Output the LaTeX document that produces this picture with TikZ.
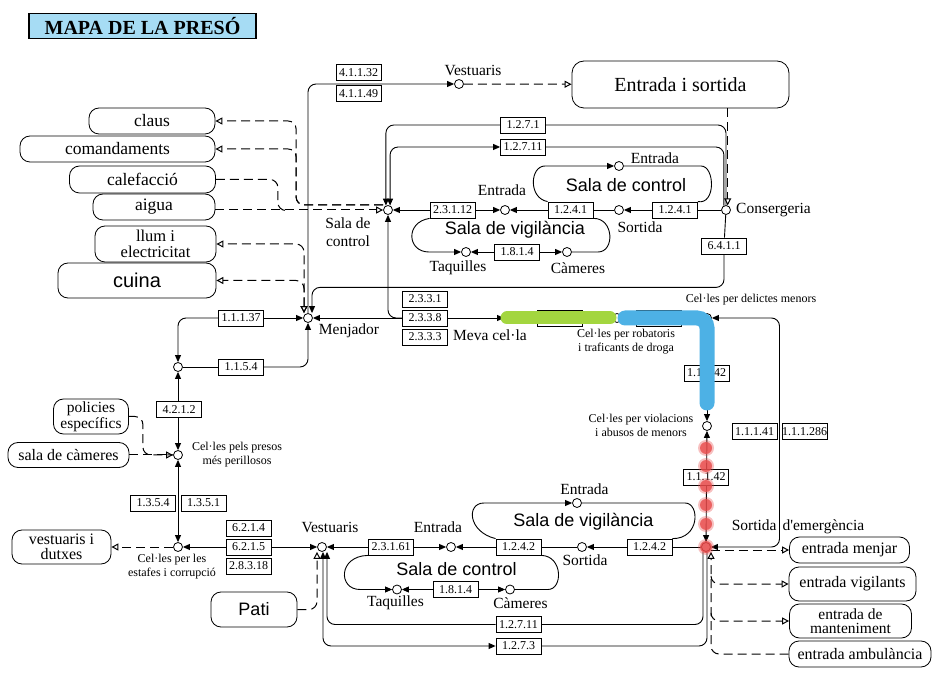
\documentclass[tikz,border=0pt]{standalone}
\usepackage{fontspec}
\setmainfont{Liberation Serif}
\newfontfamily\roomfont{Liberation Sans}
\usetikzlibrary{arrows.meta,backgrounds}
\definecolor{TitleBlue}{HTML}{A6DCF4}
\definecolor{RouteGreen}{HTML}{A3D63F}
\definecolor{RouteBlue}{HTML}{4DB1E5}
\definecolor{RouteRed}{HTML}{E84B4B}
\tikzset{fwd/.tip={Triangle[length=7pt,width=6pt]},
         opn/.tip={Triangle[open,length=7pt,width=7pt]}}

\begin{document}
\begin{tikzpicture}[x=1pt,y=-1pt,
  banner/.style={draw,line width=1.6pt,fill=TitleBlue,inner sep=0pt,
                 minimum width=227pt,minimum height=25pt,font=\bfseries\fontsize{20}{20}\selectfont},
  thing/.style={draw,rounded corners=10pt,align=center,inner sep=0pt,line width=0.8pt,
                font=\fontsize{17.5}{14}\selectfont},
  code/.style={draw,fill=white,inner sep=0pt,line width=0.8pt,minimum width=45pt,
               minimum height=16pt,font=\fontsize{12}{12}\selectfont},
  state/.style={circle,draw,fill=white,inner sep=0pt,line width=0.8pt,minimum size=9pt},
  lbl/.style={inner sep=0pt,font=\fontsize{15.5}{16}\selectfont},
  note/.style={inner sep=0pt,align=center,font=\fontsize{12}{14}\selectfont},
  room/.style={inner sep=0pt,font=\roomfont\fontsize{18}{18}\selectfont},
  link/.style={draw,line width=0.9pt,rounded corners=8pt},
  dlink/.style={link,line width=1pt,dash pattern=on 9pt off 5pt}
]
\useasboundingbox (0,0) rectangle (946,676);

\node[banner] (title) at (142.5,26) {MAPA DE LA PRESÓ};

% top row
\node[state] (vest1) at (459,84) {};
\node[lbl] (vest1lbl) at (473,70) {Vestuaris};
\node[thing,minimum width=217pt,minimum height=47pt,rounded corners=12pt,
      font=\fontsize{20}{20}\selectfont] (entsort) at (680.5,84.5) {Entrada i sortida};
\node[code] (c4132) at (358.5,72.5) {4.1.1.32};
\node[code] (c4149) at (358.5,93.5) {4.1.1.49};
\node[code] (c1271) at (523,125) {1.2.7.1};
\node[code] (c12711) at (523,147) {1.2.7.11};

% supplies on the left
\node[thing,minimum width=126pt,minimum height=26pt] (claus) at (152,121) {claus};
\node[thing,minimum width=195pt,minimum height=26pt] (comand) at (117.5,149) {comandaments};
\node[thing,minimum width=146pt,minimum height=27pt] (calef) at (142.5,179.5) {calefacció};
\node[thing,minimum width=122pt,minimum height=26pt] (aigua) at (154,207) {aigua};
\node[thing,minimum width=121pt,minimum height=36pt,font=\fontsize{16.5}{16}\selectfont] (llum) at (155.5,244) {llum i\\electricitat};
\node[thing,minimum width=158pt,minimum height=35pt,
      font=\roomfont\fontsize{20}{20}\selectfont] (cuina) at (137,280.5) {cuina};

% control rooms, top
\node[state] (salac) at (388,210) {};
\node[lbl,align=center,font=\fontsize{15.5}{18}\selectfont] (salaclbl) at (348,232) {Sala de\\control};
\node[code] (c23112) at (452.5,210) {2.3.1.12};
\node[state] (ent1) at (505,210) {};
\node[lbl] (ent1lbl) at (502,190) {Entrada};
\node[code] (c1241a) at (570.5,210) {1.2.4.1};
\node[state] (sort1) at (619,210) {};
\node[lbl] (sort1lbl) at (640,227) {Sortida};
\node[code] (c1241b) at (675,210) {1.2.4.1};
\node[state] (conserg) at (726,210) {};
\node[lbl,anchor=west] (conslbl) at (736,210) {Consergeria};
\node[state] (entsc) at (619,166) {};
\node[lbl] (entsclbl) at (655,158) {Entrada};
\node[room] (sctop) at (626,185) {Sala de control};
\node[state] (taq1) at (466,252) {};
\node[lbl] (taq1lbl) at (458,268) {Taquilles};
\node[code] (c1814a) at (517,252) {1.8.1.4};
\node[state] (cam1) at (567,252) {};
\node[lbl] (cam1lbl) at (578,268) {Càmeres};
\node[room] (svtop) at (515,230) {Sala de vigilància};
\node[code] (c6411) at (724,246) {6.4.1.1};

% dining hall
\node[state] (menj) at (308,318) {};
\node[lbl] (menjlbl) at (349,331) {Menjador};
\node[code] (c11137) at (241,318) {1.1.1.37};
\node[state] (midc) at (178,367) {};
\node[code] (c1154) at (241,367) {1.1.5.4};
\node[code] (c4212) at (179,409.5) {4.2.1.2};
\node[code] (c2331) at (425,299) {2.3.3.1};
\node[code] (c2338) at (425,318) {2.3.3.8};
\node[code] (c2333) at (425,337) {2.3.3.3};

% cells on the route
\node[state] (meva) at (509,318) {};
\node[lbl] (mevalbl) at (490,335) {Meva cel·la};
\node[code] (hbox1) at (560,318) {};
\node[state] (robat) at (617,318) {};
\node[note] (robatlbl) at (626,342) {Cel·les per robatoris\\i traficants de droga};
\node[code] (hbox2) at (658.5,318) {};
\node[state] (delict) at (707,318) {};
\node[note] (delictlbl) at (751,300) {Cel·les per delictes menors};
\node[code] (c11142a) at (706.5,373) {1.1.1.42};
\node[state] (violac) at (707,426) {};
\node[note] (violaclbl) at (641,425) {Cel·les per violacions\\i abusos de menors};
\node[code] (c11142b) at (706,477) {1.1.1.42};
\node[code] (c11141) at (754.5,431.5) {1.1.1.41};
\node[code] (c111286) at (804.5,431.5) {1.1.1.286};
\coordinate (rturn) at (779.5,431.5);

% lower left cells
\node[state] (peril) at (178,455) {};
\node[note] (perillbl) at (237,455) {Cel·les pels presos\\més perillosos};
\node[thing,minimum width=75pt,minimum height=35pt,font=\fontsize{15.5}{16}\selectfont] (polic) at (91,416.5) {policies\\específics};
\node[thing,minimum width=121pt,minimum height=25pt,font=\fontsize{16}{16}\selectfont] (salcam) at (68.5,455) {sala de càmeres};
\node[code] (c1354) at (153,503) {1.3.5.4};
\node[code] (c1351) at (203.5,503) {1.3.5.1};
\node[state] (estaf) at (178,547) {};
\node[note] (estaflbl) at (172,567) {Cel·les per les\\estafes i corrupció};
\node[thing,minimum width=99pt,minimum height=34pt,font=\fontsize{16}{15}\selectfont] (vestdut) at (61.5,547) {vestuaris i\\dutxes};
\node[code] (c6214) at (248.5,528) {6.2.1.4};
\node[code] (c6215) at (248.5,547) {6.2.1.5};
\node[code] (c28318) at (248.5,566) {2.8.3.18};
\node[thing,minimum width=86pt,minimum height=35pt,font=\roomfont\fontsize{18}{18}\selectfont] (pati) at (254,609.5) {Pati};

% control rooms, bottom
\node[state] (vest2) at (322,547) {};
\node[lbl] (vest2lbl) at (330,527) {Vestuaris};
\node[code] (c23161) at (391,547) {2.3.1.61};
\node[state] (ent2) at (451,547) {};
\node[lbl] (ent2lbl) at (438,527) {Entrada};
\node[code] (c1242a) at (518.5,547) {1.2.4.2};
\node[state] (sort2) at (582,547) {};
\node[lbl] (sort2lbl) at (585,560) {Sortida};
\node[code] (c1242b) at (649.5,547) {1.2.4.2};
\node[state] (emerg) at (706,547) {};
\node[lbl] (emerglbl) at (798,527) {Sortida\hspace{6pt}d\textquotesingle emergència};
\node[state] (entv2) at (577,503) {};
\node[lbl] (entv2lbl) at (584.5,489) {Entrada};
\node[room] (svbot) at (583.5,522) {Sala de vigilància};
\node[state] (taq2) at (397,589.5) {};
\node[lbl] (taq2lbl) at (395.5,603) {Taquilles};
\node[code] (c1814b) at (455.5,589.5) {1.8.1.4};
\node[state] (cam2) at (510,589.5) {};
\node[lbl] (cam2lbl) at (520.5,603) {Càmeres};
\node[room] (scbot) at (456.5,569) {Sala de control};
\node[code] (c12711b) at (518.5,624.5) {1.2.7.11};
\node[code] (c1273) at (518.5,646) {1.2.7.3};

% entrances
\node[thing,minimum width=120pt,minimum height=26pt,font=\fontsize{16}{13}\selectfont] (entmenj) at (849.5,550) {entrada menjar};
\node[thing,minimum width=127pt,minimum height=34pt,font=\fontsize{16}{13}\selectfont] (entvig) at (852.5,584) {entrada vigilants};
\node[thing,minimum width=122pt,minimum height=34pt,font=\fontsize{15.5}{14}\selectfont] (entmant) at (850.5,621) {entrada de\\manteniment};
\node[thing,minimum width=142pt,minimum height=26pt,font=\fontsize{16}{13}\selectfont] (entamb) at (860,654) {entrada ambulància};

\begin{scope}[on background layer]
% top
\draw[link,-{fwd}] (menj) |- (vest1);
\draw[dlink,-{opn}] (vest1) -- (entsort);
\draw[dlink,-{opn}] (entsort.south -| conserg.70) -- (conserg.70);
\draw[link,-{fwd}] (conserg.north) |- (c1271) -| (salac.115);
\draw[link,{fwd}-{fwd}] (conserg.115) |- (c12711) -| (salac.65);
% control rooms, top
\draw[link,-{fwd}] (c1241a.north west) .. controls (528,198) and (530,166) .. (553,166) -- (entsc);
\draw[link] (entsc) -- (693,166) .. controls (715,166) and (716,205) .. (c1241b.north east);
\draw[link,-{fwd}] (c23112.south west) .. controls (405,222) and (407,252) .. (437,252) -- (taq1);
\draw[link] (cam1) -- (590,252) .. controls (615,252) and (614,218) .. (c1241a.south east);
\draw[link,-{fwd}] (c1814a) -- (taq1);
\draw[link,-{fwd}] (c1814a) -- (cam1);
\draw[link,-{fwd}] (c23112) -- (salac);
\draw[link,-{fwd}] (c23112) -- (ent1);
\draw[link,-{fwd}] (c1241a) -- (ent1);
\draw[link] (c1241a) -- (sort1);
\draw[link,-{fwd}] (c1241b) -- (sort1);
\draw[link] (conserg) -- (c1241b);
% supplies
\draw[dlink,-{opn}] ([yshift=5pt]salac.west) -- ++(-87,0) |- (claus);
\draw[dlink,-{opn}] ([yshift=5pt]salac.west) -- ++(-87,0) |- (comand);
\draw[dlink] (calef.east) -| ++(62,31) -- ++(6,0);
\draw[dlink,-{opn}] (aigua.east |- salac) -- (salac);
\draw[dlink,{opn}-{opn}] ([xshift=-4pt]menj.north) |- (llum);
\draw[dlink,{opn}-{opn}] ([xshift=-4pt]menj.north) |- (cuina);
% dining hall
\draw[link] (conserg) -- (c6411);
\draw[link,-{fwd}] (c6411.south) -- ++(0,33) -| ([xshift=4pt]menj.north);
\draw[link,-{fwd}] (c2338) -- (menj);
\draw[link,-{fwd}] (c2338) -- (meva);
\draw[link,-{fwd}] (c2338.west) -| (salac);
\draw[link,-{fwd}] (c11137) -- (menj);
\draw[link,-{fwd}] (c11137) -| (midc);
\draw[link] (midc) -- (c1154);
\draw[link,-{fwd}] (c1154) -| (menj);
\draw[link,{fwd}-{fwd}] (midc) -- (peril);
\draw[link,{fwd}-{fwd}] (peril) -- (estaf);
\draw[dlink] (polic.east) -- ++(14,0) |- (peril);
\draw[dlink,-{opn}] (salcam) -- (peril);
\draw[dlink,-{opn}] (estaf) -- (vestdut);
\draw[link,-{fwd}] (c6215) -- (estaf);
\draw[link,-{fwd}] (c6215) -- (vest2);
\draw[dlink,-{opn}] (pati) -| ([xshift=-5pt]vest2.south);
% control rooms, bottom
\draw[link,-{fwd}] (c23161) -- (vest2);
\draw[link,-{fwd}] (c23161) -- (ent2);
\draw[link,-{fwd}] (c1242a) -- (ent2);
\draw[link] (c1242a) -- (sort2);
\draw[link,-{fwd}] (c1242b) -- (sort2);
\draw[link] (emerg) -- (c1242b);
\draw[link,-{fwd}] (c1242a.north west) .. controls (468,532) and (466,503) .. (492,503) -- (entv2);
\draw[link] (entv2) -- (677,503) .. controls (700,503) and (700,539) .. (c1242b.north east);
\draw[link,-{fwd}] (c23161.south west) .. controls (338,556) and (338,589.5) .. (368,589.5) -- (taq2);
\draw[link,-{fwd}] (c1814b) -- (taq2);
\draw[link,-{fwd}] (c1814b) -- (cam2);
\draw[link] (cam2) -- (540,589.5) .. controls (563,589.5) and (563,556) .. (c1242a.south east);
\draw[link,-{fwd}] ([xshift=-3pt]emerg.south) |- (c12711b) -| ([xshift=5pt]vest2.south);
\draw[link,{fwd}-{fwd}] ([xshift=1pt]emerg.south) |- (c1273) -| ([xshift=1pt]vest2.south);
% route
\draw[link] (meva) -- (hbox1);
\draw[link] (hbox1) -- (robat);
\draw[link] (robat) -- (hbox2);
\draw[link] (hbox2) -- (delict);
\draw[link,-{fwd}] (delict) -- (violac);
\draw[link,{fwd}-{fwd}] (violac) -- (emerg);
\draw[link,{fwd}-{fwd}] (emerg) -| (rturn) |- (delict);
% entrances
\draw[dlink,-{opn}] ([yshift=-3pt]emerg.east) -- (entmenj);
\draw[dlink,-{opn}] (entamb) -| ([xshift=5pt]emerg.south);
\draw[dlink,-{opn}] ([shift={(5pt,-25pt)}]emerg.south) |- (entvig);
\draw[dlink,-{opn}] ([shift={(5pt,-62pt)}]emerg.south) |- (entmant);
\end{scope}

% escape route
\draw[line width=13pt,line cap=round,RouteGreen] ([xshift=-2pt]meva.center) -- ([xshift=-7pt]robat.center);
\draw[line width=15pt,line cap=round,rounded corners=10pt,RouteBlue]
  ([xshift=8pt]robat.center) -- (delict.center) -- ([yshift=23pt]violac.center);
\foreach \y in {448,466,486,505,524,547}{
  \fill[RouteRed,opacity=.35] (706,\y) circle[radius=8pt];
  \fill[RouteRed,opacity=.8] (706,\y) circle[radius=6pt];
}
\end{tikzpicture}
\end{document}
